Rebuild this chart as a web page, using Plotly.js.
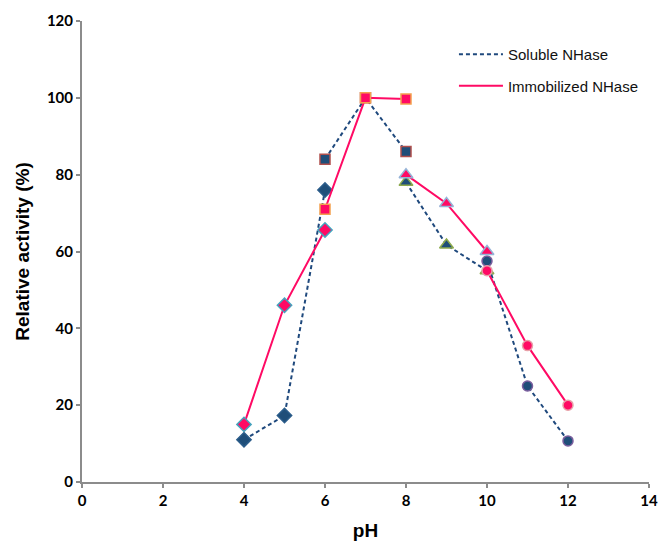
<!DOCTYPE html>
<html>
<head>
<meta charset="utf-8">
<script src="https://cdn.plot.ly/plotly-3.0.1.min.js"></script>
<style>html,body{margin:0;padding:0;background:#fff;}#chart{width:662px;height:541px;}</style>
</head>
<body>
<div id="chart"></div>
<script>
// pH values per buffer system
const pHAcetate = [4, 5, 6];
const pHPhosphate = [6, 7, 8];
const pHTris = [8, 9, 10];
const pHGlycine = [10, 11, 12];

// Soluble NHase relative activity (%)
const solubleAcetate = [11, 17.3, 76];
const solublePhosphate = [84, 100, 86];
const solubleTris = [78, 61.7, 55];
const solubleGlycine = [57.5, 25, 10.7];

// Immobilized NHase relative activity (%)
const immobAcetate = [15, 46, 65.6];
const immobPhosphate = [71, 100, 99.7];
const immobTris = [80, 72.5, 60];
const immobGlycine = [55, 35.5, 20];

const legendNames = ['Soluble NHase', 'Immobilized NHase'];

const solColor = '#1F4E79';
const immColor = '#FF0A64';
const solLine = {color: '#1F497D', width: 2, dash: '4px,3px'};
const immLine = {color: immColor, width: 2};

function seg(x, y, line, symbol, size, fill, edge) {
  return {
    x: x, y: y, type: 'scatter', mode: 'lines+markers', showlegend: false,
    line: line, hoverinfo: 'x+y',
    marker: {symbol: symbol, size: size, color: fill, line: {color: edge, width: 1.5}}
  };
}

const data = [
  seg(pHAcetate, solubleAcetate, solLine, 'diamond', 11, solColor, '#2B5C8A'),
  seg(pHPhosphate, solublePhosphate, solLine, 'square', 10, solColor, '#B0504D'),
  seg(pHTris, solubleTris, solLine, 'triangle-up', 12, solColor, '#8DAA4E'),
  seg(pHGlycine, solubleGlycine, solLine, 'circle', 10, solColor, '#7A5E9E'),
  seg(pHAcetate, immobAcetate, immLine, 'diamond', 11, immColor, '#45A3BD'),
  seg(pHPhosphate, immobPhosphate, immLine, 'square', 10, immColor, '#F3A04E'),
  seg(pHTris, immobTris, immLine, 'triangle-up', 12, immColor, '#95B3D7'),
  seg(pHGlycine, immobGlycine, immLine, 'circle', 10, immColor, '#E8A0A8'),
  {x: [null], y: [null], type: 'scatter', mode: 'lines', name: legendNames[0], legendgroup: 'a', line: solLine},
  {x: [null], y: [null], type: 'scatter', mode: 'lines', name: legendNames[1], legendgroup: 'b', line: immLine}
];

const tickFont = {family: 'Lato, "Open Sans", Arial, sans-serif', size: 15, weight: 'bold', color: '#000'};

const layout = {
  width: 662, height: 541,
  margin: {l: 82, r: 13, t: 21, b: 59},
  paper_bgcolor: '#fff', plot_bgcolor: '#fff',
  showlegend: true,
  legend: {
    x: 0.656, y: 0.963, xanchor: 'left', yanchor: 'top',
    traceorder: 'grouped', tracegroupgap: 9, itemwidth: 44,
    font: {family: 'Arial, "Liberation Sans", sans-serif', size: 15, color: '#111'},
    bgcolor: 'rgba(0,0,0,0)'
  },
  xaxis: {
    range: [0, 14], dtick: 2, tick0: 0,
    showgrid: false, zeroline: false,
    showline: true, linecolor: '#8c8c8c', linewidth: 2,
    ticks: 'outside', ticklen: 4, tickwidth: 2, tickcolor: '#8c8c8c',
    tickfont: tickFont,
    title: {text: 'pH', font: {family: 'Arial, "Liberation Sans", sans-serif', size: 19, weight: 'bold', color: '#000'}, standoff: 16}
  },
  yaxis: {
    range: [0, 120], dtick: 20, tick0: 0,
    showgrid: false, zeroline: false,
    showline: true, linecolor: '#8c8c8c', linewidth: 2,
    ticks: 'outside', ticklen: 4, tickwidth: 2, tickcolor: '#8c8c8c',
    tickfont: tickFont,
    title: {text: 'Relative activity (%)', font: {family: 'Arial, "Liberation Sans", sans-serif', size: 19, weight: 'bold', color: '#000'}, standoff: 12}
  }
};

Plotly.newPlot('chart', data, layout, {displayModeBar: false, staticPlot: true});
</script>
</body>
</html>
